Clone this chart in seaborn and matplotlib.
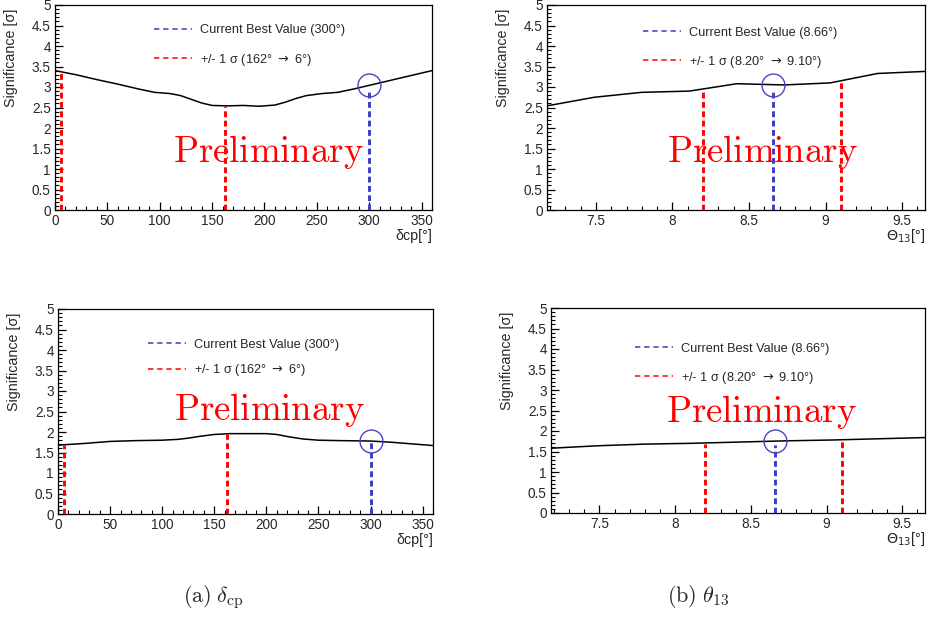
import numpy as np
import pandas as pd
import matplotlib
matplotlib.use("Agg")
import matplotlib.pyplot as plt
from matplotlib.lines import Line2D
from matplotlib.ticker import MultipleLocator, FixedLocator, FixedFormatter
import seaborn as sns

# ---------------- data ----------------
dcp_x = [0, 20, 40, 60, 80, 95, 110, 120, 130, 140, 150, 165, 180, 195, 210,
         220, 230, 240, 255, 270, 285, 300, 315, 330, 345, 360]
dcp_top = [3.40, 3.30, 3.18, 3.07, 2.95, 2.87, 2.84, 2.79, 2.70, 2.61, 2.55, 2.54,
           2.55, 2.53, 2.56, 2.63, 2.72, 2.79, 2.84, 2.87, 2.95, 3.04, 3.13, 3.22,
           3.31, 3.40]
dcp_x2 = [0, 25, 50, 75, 100, 115, 125, 135, 150, 165, 180, 200, 210, 220, 235,
          250, 270, 300, 320, 340, 360]
dcp_bot = [1.68, 1.72, 1.77, 1.79, 1.80, 1.82, 1.85, 1.89, 1.94, 1.96, 1.96, 1.96,
           1.94, 1.89, 1.83, 1.80, 1.79, 1.78, 1.75, 1.71, 1.67]

th_x = [7.18, 7.49, 7.80, 8.11, 8.42, 8.73, 9.03, 9.34, 9.65]
th_top = [2.54, 2.75, 2.87, 2.90, 3.08, 3.05, 3.10, 3.33, 3.38]
th_bot = [1.58, 1.64, 1.68, 1.70, 1.73, 1.76, 1.78, 1.81, 1.84]

# best value and +/- 1 sigma lines: x, top of line
dcp_best = 300
dcp_sigma = [6, 162]
th_best = 8.66
th_sigma = [8.20, 9.10]

dcp_sigma_top_a = [3.38, 2.54]
dcp_best_top_a = 2.95
dcp_circle_a = 3.05
dcp_sigma_top_b = [1.68, 1.95]
dcp_best_top_b = 1.76
dcp_circle_b = 1.78

th_sigma_top_a = [2.95, 3.15]
th_best_top_a = 2.95
th_circle_a = 3.06
th_sigma_top_b = [1.68, 1.78]
th_best_top_b = 1.65
th_circle_b = 1.75

y_ticks = [0, 0.5, 1, 1.5, 2, 2.5, 3, 3.5, 4, 4.5, 5]
y_ticklabels = ["0", "0.5", "1", "1.5", "2", "2.5", "3", "3.5", "4", "4.5", "5"]
dcp_ticks = [0, 50, 100, 150, 200, 250, 300, 350]
dcp_ticklabels = ["0", "50", "100", "150", "200", "250", "300", "350"]
th_ticks = [7.5, 8, 8.5, 9, 9.5]
th_ticklabels = ["7.5", "8", "8.5", "9", "9.5"]

dcp_labels = ["Current Best Value (300\u00b0)",
              "+/- 1 \u03c3 (162\u00b0 $\\rightarrow$ 6\u00b0)"]
th_labels = ["Current Best Value (8.66\u00b0)",
             "+/- 1 \u03c3 (8.20\u00b0 $\\rightarrow$ 9.10\u00b0)"]

# ---------------- style ----------------
sns.set_style("ticks")
plt.rcParams["font.family"] = ["Liberation Sans", "DejaVu Sans"]

BLUE = "#3c3cc8"
RED = "#ff0000"
CIRC = "#4646c0"

fig = plt.figure(figsize=(9.27, 6.18), dpi=100)

W, H = 927.0, 618.0
def add_ax(l, t, r, b):
    return fig.add_axes([l / W, 1 - b / H, (r - l) / W, (b - t) / H])

ax_tl = add_ax(55, 5, 432, 210)
ax_tr = add_ax(547, 5, 925, 210)
ax_bl = add_ax(58, 309, 433, 514)
ax_br = add_ax(551, 308, 925, 513)

def panel(ax, x, y, xlim, sig_x, sig_top, best_x, best_top, circ_y,
          xticks, xticklabels, xminor, xlabel, labels, leg_xy, lspace,
          prelim_xy, xlab_y):
    df = pd.DataFrame({"x": x, "y": y})
    sns.lineplot(data=df, x="x", y="y", ax=ax, color="black", lw=1.1,
                 sort=False, estimator=None)
    ax.vlines(sig_x, 0, sig_top, colors=RED, linestyles=[(0, (2.0, 1.2))],
              lw=2.1, zorder=3)
    ax.vlines([best_x], 0, [best_top], colors=BLUE, linestyles=[(0, (2.0, 1.2))],
              lw=2.1, zorder=3)
    ax.plot([best_x], [circ_y], marker="o", ms=16.5, mfc="none", mec=CIRC,
            mew=1.0, ls="none", zorder=4)
    ax.set_xlim(*xlim)
    ax.set_ylim(0, 5)
    ax.yaxis.set_major_locator(FixedLocator(y_ticks))
    ax.yaxis.set_major_formatter(FixedFormatter(y_ticklabels))
    ax.yaxis.set_minor_locator(MultipleLocator(0.1))
    ax.xaxis.set_major_locator(FixedLocator(xticks))
    ax.xaxis.set_major_formatter(FixedFormatter(xticklabels))
    ax.xaxis.set_minor_locator(MultipleLocator(xminor))
    ax.tick_params(axis="both", which="major", direction="in", length=6,
                   width=0.9, labelsize=9.8, color="black", top=False, right=False)
    ax.tick_params(axis="both", which="minor", direction="in", length=3.2,
                   width=0.8, color="black", top=False, right=False)
    ax.tick_params(axis="y", which="major", pad=3.0)
    ax.tick_params(axis="x", which="major", pad=3.0)
    for s in ax.spines.values():
        s.set_visible(True)
        s.set_linewidth(0.9)
        s.set_color("black")
    ax.set_ylabel("Significance [\u03c3]", fontsize=10.3, loc="top")
    ax.yaxis.set_label_coords(-0.098, 0.98)
    ax.set_xlabel(xlabel, fontsize=10.3, loc="right")
    ax.xaxis.set_label_coords(1.0, xlab_y)
    handles = [Line2D([], [], color=BLUE, lw=1.1, ls=(0, (3.5, 2.5))),
               Line2D([], [], color=RED, lw=1.1, ls=(0, (3.5, 2.5)))]
    ax.legend(handles, labels, loc="upper left", bbox_to_anchor=leg_xy,
              frameon=False, borderaxespad=0, borderpad=0, handlelength=3.0,
              handletextpad=0.6, labelspacing=lspace, fontsize=9.2)
    ax.text(prelim_xy[0], prelim_xy[1], r"$\mathrm{Preliminary}$",
            transform=ax.transAxes, ha="center", va="baseline", color=RED,
            fontsize=26.5, math_fontfamily="cm")

panel(ax_tl, dcp_x, dcp_top, (0, 360), dcp_sigma, dcp_sigma_top_a, dcp_best,
      dcp_best_top_a, dcp_circle_a, dcp_ticks, dcp_ticklabels, 10,
      "\u03b4cp[\u00b0]", dcp_labels, (0.263, 0.905), 1.2, (0.565, 0.235), -0.095)
panel(ax_tr, th_x, th_top, (7.18, 9.65), th_sigma, th_sigma_top_a, th_best,
      th_best_top_a, th_circle_a, th_ticks, th_ticklabels, 0.1,
      "$\\Theta_{13}$[\u00b0]", th_labels, (0.254, 0.895), 1.2, (0.569, 0.235), -0.085)
panel(ax_bl, dcp_x2, dcp_bot, (0, 360), dcp_sigma, dcp_sigma_top_b, dcp_best,
      dcp_best_top_b, dcp_circle_b, dcp_ticks, dcp_ticklabels, 10,
      "\u03b4cp[\u00b0]", dcp_labels, (0.24, 0.855), 0.9, (0.563, 0.46), -0.095)
panel(ax_br, th_x, th_bot, (7.18, 9.65), th_sigma, th_sigma_top_b, th_best,
      th_best_top_b, th_circle_b, th_ticks, th_ticklabels, 0.1,
      "$\\Theta_{13}$[\u00b0]", th_labels, (0.225, 0.83), 1.15, (0.564, 0.445), -0.085)

fig.text(213 / W, 1 - 597 / H, r"$\mathrm{(a)}\;\delta_{\mathrm{cp}}$",
         ha="center", va="center", fontsize=16, math_fontfamily="cm")
fig.text(698 / W, 1 - 597 / H, r"$\mathrm{(b)}\;\theta_{13}$",
         ha="center", va="center", fontsize=16, math_fontfamily="cm")

fig.savefig("out.png", dpi=100)
